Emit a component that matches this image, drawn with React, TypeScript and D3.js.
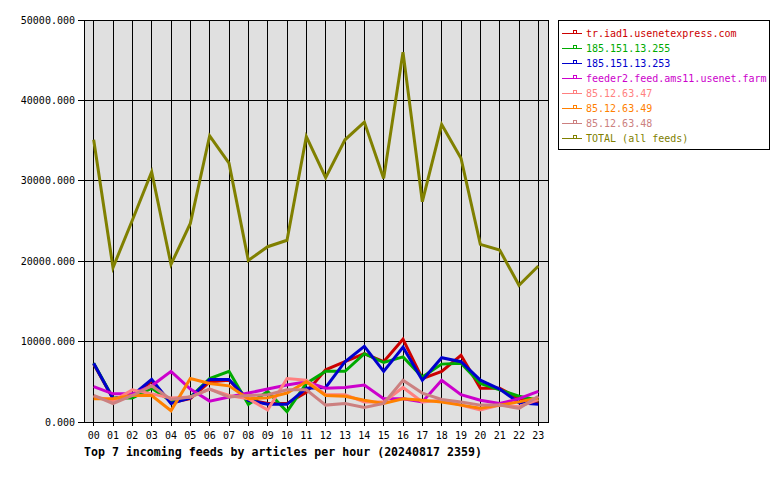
import { useMemo } from "react";
import * as d3 from "d3";

const MARGIN = { top: 20, right: 232, bottom: 58, left: 84 };
const WIDTH = 780;
const HEIGHT = 480;

const hours = [
  "00", "01", "02", "03", "04", "05", "06", "07", "08", "09", "10", "11",
  "12", "13", "14", "15", "16", "17", "18", "19", "20", "21", "22", "23",
];

const feedNames = [
  "tr.iad1.usenetexpress.com",
  "185.151.13.255",
  "185.151.13.253",
  "feeder2.feed.ams11.usenet.farm",
  "85.12.63.47",
  "85.12.63.49",
  "85.12.63.48",
  "TOTAL (all feeds)",
];

const feedColors = [
  "#cc0000", "#00aa00", "#0000cc", "#cc00cc",
  "#ff8080", "#ff8000", "#cc8080", "#808000",
];

const trIad1 = [7200, 2900, 3100, 5100, 2400, 2900, 5000, 5200, 2800, 2300, 2300, 3700, 6500, 7500, 8500, 7500, 10300, 5400, 6300, 8300, 4200, 4200, 2900, 2400];
const ip255 = [7300, 3000, 3000, 4200, 2600, 3100, 5400, 6300, 2200, 3800, 1300, 4800, 6300, 6300, 8500, 7400, 8100, 5600, 7200, 7300, 4800, 4000, 3200, 2700];
const ip253 = [7300, 2900, 3300, 5300, 2300, 3000, 5300, 5300, 2700, 2200, 2200, 4200, 4300, 7500, 9400, 6300, 9300, 5200, 8000, 7500, 5200, 4100, 2400, 2200];
const feeder2 = [4400, 3500, 3500, 4500, 6300, 4100, 2600, 3100, 3600, 4100, 4600, 5000, 4200, 4300, 4600, 2900, 2900, 2500, 5200, 3400, 2700, 2300, 2900, 3800];
const ip47 = [3200, 2600, 4000, 3500, 3000, 3100, 4100, 3300, 2900, 1500, 5400, 5200, 3400, 3400, 2500, 2500, 4300, 2500, 2700, 2100, 1500, 2100, 1900, 2800];
const ip49 = [2900, 2900, 3300, 3300, 1400, 5400, 4800, 4500, 2900, 3000, 3600, 5000, 3300, 3200, 2700, 2300, 2900, 2700, 2500, 2100, 1700, 2100, 2500, 3000];
const ip48 = [3300, 2300, 3300, 4500, 2800, 3100, 4100, 3100, 3300, 3400, 4000, 4000, 2100, 2300, 1800, 2300, 5200, 3600, 2800, 2500, 2100, 2100, 1700, 3200];
const total = [35100, 19200, 25100, 31100, 19600, 24700, 35600, 32200, 20100, 21800, 22600, 35500, 30400, 35100, 37300, 30300, 46000, 27400, 37000, 32800, 22100, 21400, 17000, 19400];

const seriesValues = [trIad1, ip255, ip253, feeder2, ip47, ip49, ip48, total];

const MONO = "'DejaVu Sans Mono', monospace";

export default function App() {
  const right = WIDTH - MARGIN.right;
  const bottom = HEIGHT - MARGIN.bottom;

  const xScale = useMemo(
    () => d3.scalePoint<string>().domain(hours).range([MARGIN.left, right]).padding(0.5),
    [right]
  );
  const yScale = useMemo(
    () => d3.scaleLinear().domain([0, 50000]).range([bottom, MARGIN.top]),
    [bottom]
  );

  const lineGen = d3
    .line<number>()
    .x((_, i) => xScale(hours[i])!)
    .y((d) => yScale(d));

  const yTicks = yScale.ticks(5);
  const fmt = d3.format(".3f");

  return (
    <svg
      width={WIDTH}
      height={HEIGHT}
      style={{ position: "absolute", left: 0, top: 0, background: "#fff" }}
    >
      <rect
        x={MARGIN.left}
        y={MARGIN.top}
        width={right - MARGIN.left}
        height={bottom - MARGIN.top}
        fill="#e0e0e0"
      />
      <g shapeRendering="crispEdges" stroke="#000" strokeWidth={1}>
        {hours.map((h) => (
          <line key={h} x1={xScale(h)} x2={xScale(h)} y1={MARGIN.top} y2={bottom + 4} />
        ))}
        {yTicks.map((t) => (
          <line key={t} x1={MARGIN.left - 6} x2={right} y1={yScale(t)} y2={yScale(t)} />
        ))}
        <rect
          x={MARGIN.left}
          y={MARGIN.top}
          width={right - MARGIN.left}
          height={bottom - MARGIN.top}
          fill="none"
        />
      </g>

      {seriesValues.map((vals, i) => (
        <path
          key={feedNames[i]}
          d={lineGen(vals) || ""}
          fill="none"
          stroke={feedColors[i]}
          strokeWidth={3}
        />
      ))}

      <g fontFamily={MONO} fontSize={10} fill="#000">
        {yTicks.map((t) => (
          <text key={t} x={MARGIN.left - 9} y={yScale(t)} dy="0.35em" textAnchor="end">
            {fmt(t)}
          </text>
        ))}
        {hours.map((h) => (
          <text key={h} x={xScale(h)} y={bottom + 13} dy="0.35em" textAnchor="middle">
            {h}
          </text>
        ))}
      </g>
      <text
        x={MARGIN.left}
        y={bottom + 30}
        dy="0.35em"
        fontFamily={MONO}
        fontSize={11.6}
        fontWeight="bold"
      >
        Top 7 incoming feeds by articles per hour (20240817 2359)
      </text>

      <g>
        <rect
          x={558.5}
          y={20.5}
          width={211}
          height={129}
          fill="#fff"
          stroke="#000"
          shapeRendering="crispEdges"
        />
        {feedNames.map((name, i) => {
          const cy = 33 + i * 15;
          return (
            <g key={name}>
              <line
                x1={562}
                x2={582}
                y1={cy + 0.5}
                y2={cy + 0.5}
                stroke={feedColors[i]}
                strokeWidth={1}
                shapeRendering="crispEdges"
              />
              <rect
                x={573.5}
                y={cy - 2.5}
                width={3}
                height={3}
                fill="none"
                stroke={feedColors[i]}
                shapeRendering="crispEdges"
              />
              <text
                x={586}
                y={cy}
                dy="0.35em"
                fontFamily={MONO}
                fontSize={10}
                fill={feedColors[i]}
              >
                {name}
              </text>
            </g>
          );
        })}
      </g>
    </svg>
  );
}
